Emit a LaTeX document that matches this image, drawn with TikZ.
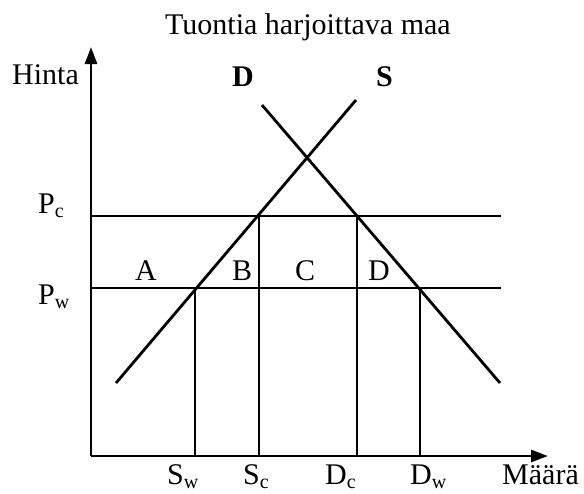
\documentclass[tikz,border=0pt]{standalone}
\usepackage{fontspec}
\setmainfont{Liberation Serif}
\usetikzlibrary{arrows.meta}
\tikzset{
  axis/.style={line width=2.8pt, -{Triangle[length=17pt, width=12pt]}},
  curve/.style={line width=2.8pt},
  guide/.style={line width=1.6pt},
  lbl/.style={font=\fontsize{30}{34}\selectfont, inner sep=0pt, anchor=base west},
  blbl/.style={lbl, font=\fontsize{30}{34}\selectfont\bfseries}
}
\newcommand{\lsub}[2]{#1\raisebox{-4pt}{\fontsize{20}{22}\selectfont #2}}

\begin{document}
\begin{tikzpicture}[x=1pt, y=-1pt]
  \useasboundingbox (0,0) rectangle (584,493);
  % axes
  \coordinate (O) at (91,456);
  \coordinate (ytip) at (91,47);
  \coordinate (xtip) at (548,456);
  \draw[axis] (O) -- (ytip);
  \draw[axis] (O) -- (xtip);
  % price levels and quantities
  \coordinate (pc) at (91,216);  \coordinate (pcend) at (501,216);
  \coordinate (pw) at (91,288);  \coordinate (pwend) at (501,288);
  \coordinate (sw) at (195,288); \coordinate (sc) at (259,216);
  \coordinate (dc) at (357,216); \coordinate (dw) at (420,288);
  \draw[guide] (pc) -- (pcend);
  \draw[guide] (pw) -- (pwend);
  \foreach \q in {sw,sc,dc,dw}
    \draw[guide] (\q) -- (\q |- O);
  % supply and demand
  \coordinate (s0) at (116,383); \coordinate (s1) at (356,100);
  \coordinate (d0) at (262,105); \coordinate (d1) at (500,383);
  \draw[curve] (s0) -- (s1);
  \draw[curve] (d0) -- (d1);
  % labels
  \node[lbl] (title) at (165,34) {Tuontia harjoittava maa};
  \node[lbl] (hinta) at (12,84) {Hinta};
  \node[blbl] (lD) at (232,86) {D};
  \node[blbl] (lS) at (376,86) {S};
  \node[lbl] (lPc) at (38,213) {\lsub{P}{c}};
  \node[lbl] (lPw) at (38,304) {\lsub{P}{w}};
  \node[lbl] (lA) at (135,280) {A};
  \node[lbl] (lB) at (232,280) {B};
  \node[lbl] (lC) at (295,280) {C};
  \node[lbl] (lDa) at (368,280) {D};
  \node[lbl] (lSw) at (167,484) {\lsub{S}{w}};
  \node[lbl] (lSc) at (243,484) {\lsub{S}{c}};
  \node[lbl] (lDc) at (325,484) {\lsub{D}{c}};
  \node[lbl] (lDw) at (410,484) {\lsub{D}{w}};
  \node[lbl] (maara) at (502,484) {Määrä};
\end{tikzpicture}
\end{document}
